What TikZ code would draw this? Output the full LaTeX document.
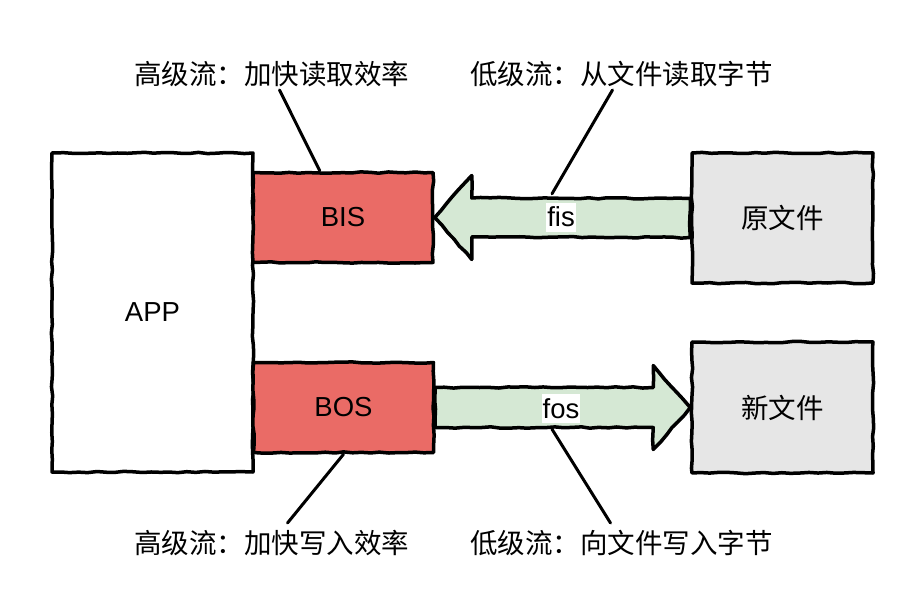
\documentclass[tikz,border=0pt]{standalone}
\usepackage{fontspec}
\setmainfont{Liberation Sans}
\newfontfamily\cjk{Noto Sans CJK SC}
\usepackage{tikz}
\usetikzlibrary{calc}
\usetikzlibrary{decorations.pathmorphing}
\definecolor{bufred}{HTML}{EA6B66}
\definecolor{flowgreen}{HTML}{D5E8D4}
\definecolor{filegray}{HTML}{E6E6E6}
\tikzset{
    sketch/.style={decorate, decoration={random steps, segment length=9pt, amplitude=0.7pt}, line width=3.5pt, line join=round}, % 手绘风格的线
    box/.style={sketch, draw, inner sep=0pt, font=\fontsize{27.5}{33}\selectfont}, % 方框
    tag/.style={font=\cjk\fontsize{27.5}{33}\selectfont, inner sep=3pt}, % 说明文字
    pipe/.style={fill=white, inner xsep=1pt, inner ysep=2pt, text height=22pt, text depth=3pt, font=\fontsize{27.5}{33}\selectfont}, % 流的名字
    leader/.style={line width=3pt, line cap=round}
}

\begin{document}
\begin{tikzpicture}[x=1pt, y=-1pt]
    \pgfmathsetseed{5}
    \useasboundingbox (0,0) rectangle (924,612);

    \node[box, minimum width=201pt, minimum height=319pt] (app) at (152.5, 312.5) {APP};
    \node[box, fill=bufred, minimum width=180pt, minimum height=90pt] (bis) at (343, 217.5) {BIS};
    \node[box, fill=bufred, minimum width=180pt, minimum height=90pt] (bos) at (343.5, 407.5) {BOS};
    \node[box, fill=filegray, minimum width=181pt, minimum height=130pt] (src) at (782.5, 218) {\cjk 原文件};
    \node[box, fill=filegray, minimum width=181pt, minimum height=131pt] (dst) at (782.5, 407.5) {\cjk 新文件};

    \filldraw[sketch, fill=flowgreen] (bis.east) -- ++(37,-42) -- ++(0,22.5) -- ($(src.west)+(0,-19.5)$)
        -- ($(src.west)+(0,19.5)$) -- ($(bis.east)+(37,19.5)$) -- ++(0,22.5) -- cycle;
    \filldraw[sketch, fill=flowgreen] ($(bos.east)+(0,-20)$) -- ($(dst.west)+(-37,-20)$) -- ++(0,-22) -- (dst.west)
        -- ($(dst.west)+(-37,42)$) -- ++(0,-22) -- ($(bos.east)+(0,20)$) -- cycle;

    \node[pipe] (fis) at (561, 217.5) {fis};
    \node[pipe] (fos) at (561, 408.5) {fos};

    \node[tag] (lblbis) at (271.5, 74) {高级流：加快读取效率};
    \node[tag] (lblfis) at (621.5, 74) {低级流：从文件读取字节};
    \node[tag] (lblbos) at (271.5, 543) {高级流：加快写入效率};
    \node[tag] (lblfos) at (621.5, 543) {低级流：向文件写入字节};

    \draw[leader] (lblbis) -- (bis);
    \draw[leader] ($(lblfis.south)+(-9,0)$) -- ($(fis.north)+(-9,-9)$);
    \draw[leader] (bos.south) -- ($(lblbos.north)+(16,-4)$);
    \draw[leader] ($(fos.south)+(-9,6)$) -- ($(lblfos.north)+(-11,-4)$);

\end{tikzpicture}
\end{document}
